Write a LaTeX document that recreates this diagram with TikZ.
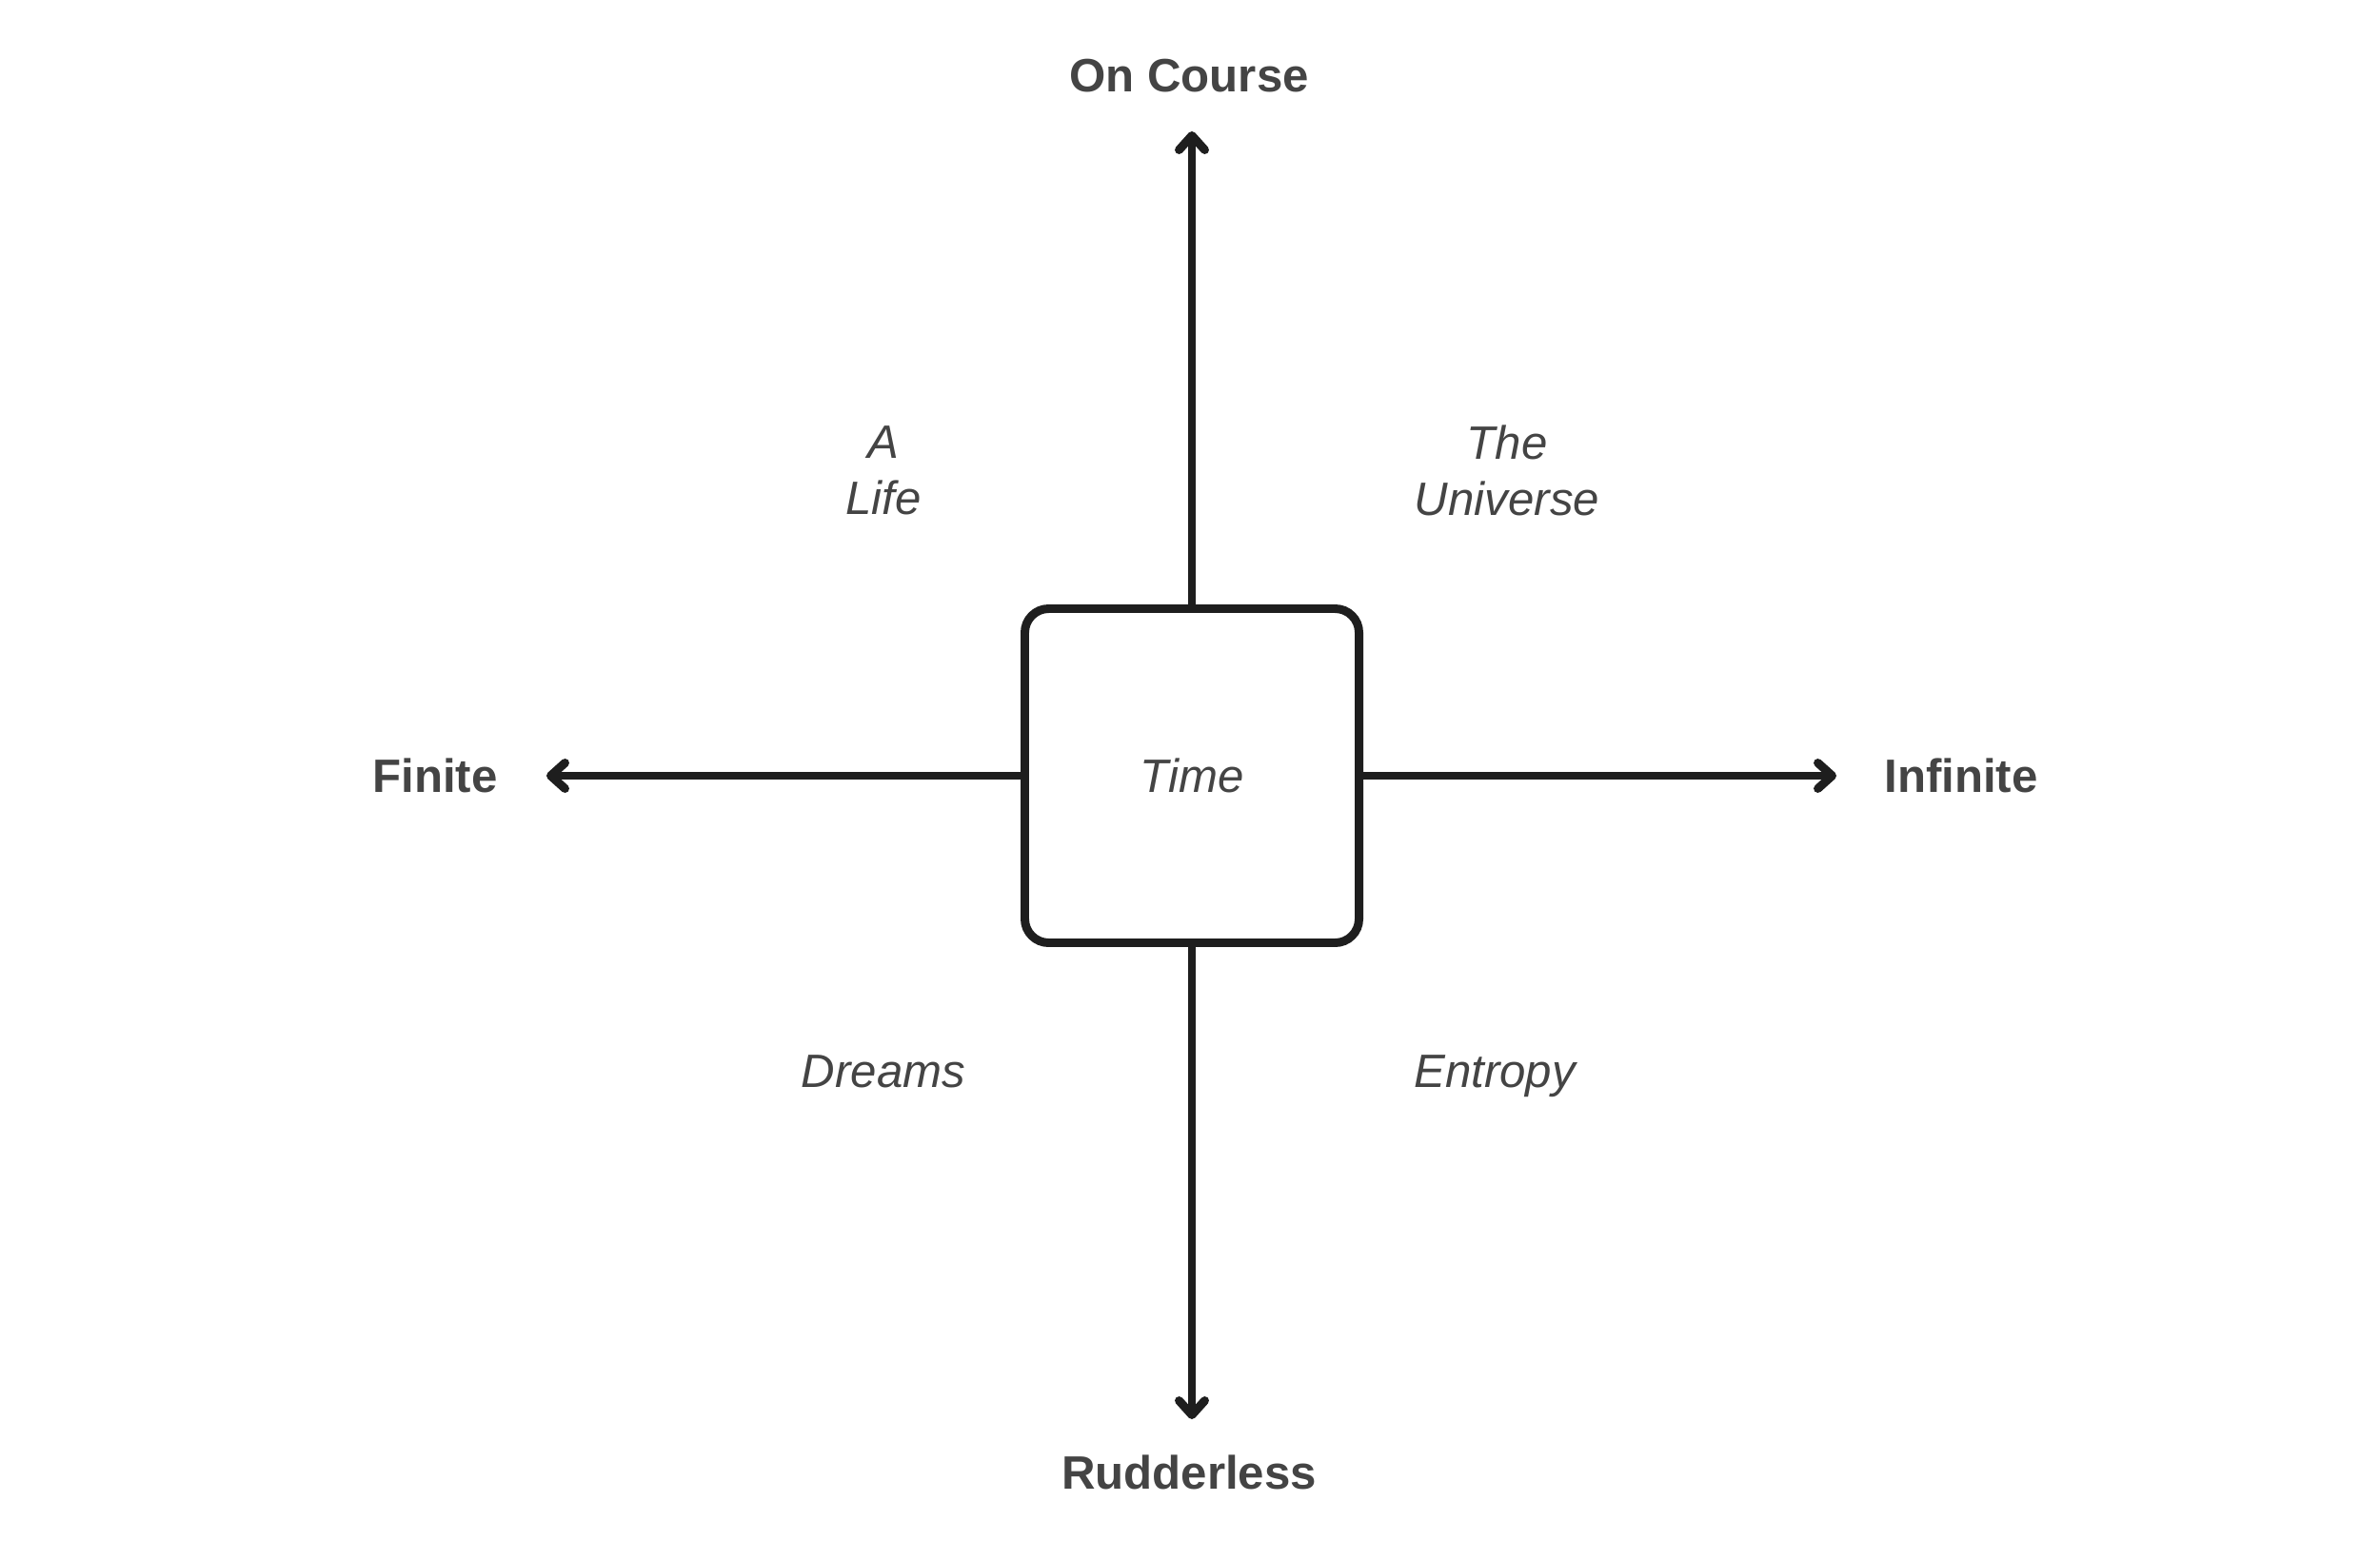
\documentclass[tikz,border=0pt]{standalone}
\usepackage{fontspec}
\setmainfont{Liberation Sans}
\usetikzlibrary{arrows.meta}
\definecolor{linec}{HTML}{1E1E1E}
\definecolor{textc}{HTML}{444444}
\tikzset{
  axis/.style={draw=linec, line width=2.55pt, -{Straight Barb[length=1.5mm, width=2.7mm, line cap=round, line join=round]}},
  hub/.style={draw=linec, line width=2.55pt, rounded corners=0.25cm, minimum width=3.51cm, minimum height=3.51cm, inner sep=0pt, fill=white, text=textc, font=\fontsize{14}{16.8}\selectfont\itshape},
  pole/.style={text=textc, font=\fontsize{14}{16.8}\selectfont\bfseries, inner sep=0pt},
  quad/.style={text=textc, font=\fontsize{14}{16.8}\selectfont\itshape, align=center, inner sep=0pt},
}
\begin{document}
\begin{tikzpicture}
\useasboundingbox (0,0) rectangle (25,16.18);
\node[hub] (time) at (12.52,8.03) {Time};
\coordinate (up) at (12.52,14.80);
\coordinate (down) at (12.52,1.27);
\coordinate (left) at (5.74,8.03);
\coordinate (right) at (19.29,8.03);
\draw[axis] (time.north) -- (up);
\draw[axis] (time.south) -- (down);
\draw[axis] (time.west) -- (left);
\draw[axis] (time.east) -- (right);
\node[pole] (oncourse) at (12.49,15.38) {On Course};
\node[pole] (rudderless) at (12.49,0.71) {Rudderless};
\node[pole] (finite) at (4.57,8.03) {Finite};
\node[pole] (infinite) at (20.60,8.03) {Infinite};
\node[quad] (life) at (9.28,11.24) {A\\Life};
\node[quad] (universe) at (15.83,11.24) {The\\Universe};
\node[quad, anchor=base] (dreams) at (9.28,4.76) {Dreams};
\node[quad, anchor=base] (entropy) at (15.70,4.76) {Entropy};
\end{tikzpicture}
\end{document}
